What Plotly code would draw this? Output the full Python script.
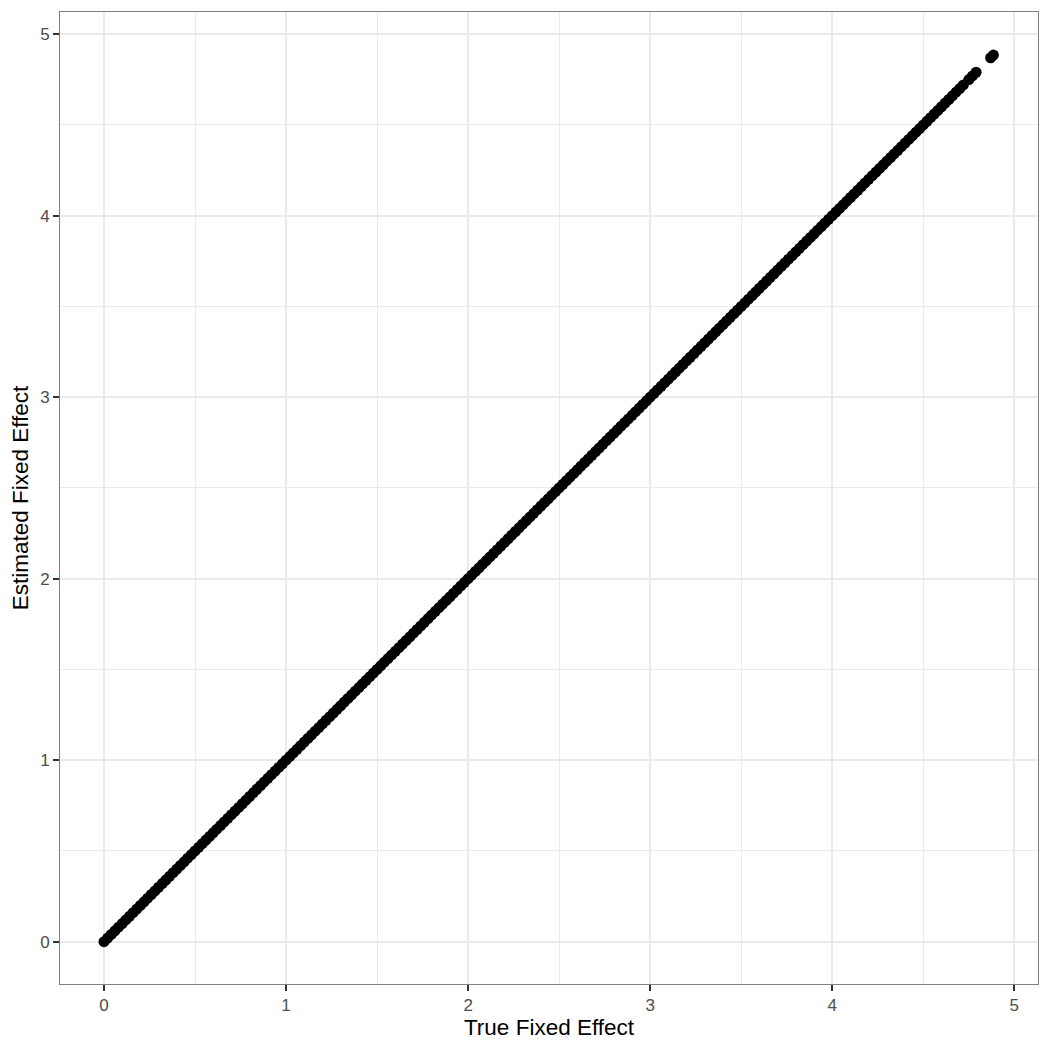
import plotly.graph_objects as go

true_effect = [
    0.00, 0.02, 0.04, 0.06, 0.08, 0.10, 0.12, 0.14, 0.16, 0.18,
    0.20, 0.22, 0.24, 0.26, 0.28, 0.30, 0.32, 0.34, 0.36, 0.38,
    0.40, 0.42, 0.44, 0.46, 0.48, 0.50, 0.52, 0.54, 0.56, 0.58,
    0.60, 0.62, 0.64, 0.66, 0.68, 0.70, 0.72, 0.74, 0.76, 0.78,
    0.80, 0.82, 0.84, 0.86, 0.88, 0.90, 0.92, 0.94, 0.96, 0.98,
    1.00, 1.02, 1.04, 1.06, 1.08, 1.10, 1.12, 1.14, 1.16, 1.18,
    1.20, 1.22, 1.24, 1.26, 1.28, 1.30, 1.32, 1.34, 1.36, 1.38,
    1.40, 1.42, 1.44, 1.46, 1.48, 1.50, 1.52, 1.54, 1.56, 1.58,
    1.60, 1.62, 1.64, 1.66, 1.68, 1.70, 1.72, 1.74, 1.76, 1.78,
    1.80, 1.82, 1.84, 1.86, 1.88, 1.90, 1.92, 1.94, 1.96, 1.98,
    2.00, 2.02, 2.04, 2.06, 2.08, 2.10, 2.12, 2.14, 2.16, 2.18,
    2.20, 2.22, 2.24, 2.26, 2.28, 2.30, 2.32, 2.34, 2.36, 2.38,
    2.40, 2.42, 2.44, 2.46, 2.48, 2.50, 2.52, 2.54, 2.56, 2.58,
    2.60, 2.62, 2.64, 2.66, 2.68, 2.70, 2.72, 2.74, 2.76, 2.78,
    2.80, 2.82, 2.84, 2.86, 2.88, 2.90, 2.92, 2.94, 2.96, 2.98,
    3.00, 3.02, 3.04, 3.06, 3.08, 3.10, 3.12, 3.14, 3.16, 3.18,
    3.20, 3.22, 3.24, 3.26, 3.28, 3.30, 3.32, 3.34, 3.36, 3.38,
    3.40, 3.42, 3.44, 3.46, 3.48, 3.50, 3.52, 3.54, 3.56, 3.58,
    3.60, 3.62, 3.64, 3.66, 3.68, 3.70, 3.72, 3.74, 3.76, 3.78,
    3.80, 3.82, 3.84, 3.86, 3.88, 3.90, 3.92, 3.94, 3.96, 3.98,
    4.00, 4.02, 4.04, 4.06, 4.08, 4.10, 4.12, 4.14, 4.16, 4.18,
    4.20, 4.22, 4.24, 4.26, 4.28, 4.30, 4.32, 4.34, 4.36, 4.38,
    4.40, 4.42, 4.44, 4.46, 4.48, 4.50, 4.52, 4.54, 4.56, 4.58,
    4.60, 4.62, 4.64, 4.66, 4.68, 4.70, 4.72,
    4.75, 4.77, 4.79, 4.87, 4.885,
]

est_effect = [
    0.00, 0.02, 0.04, 0.06, 0.08, 0.10, 0.12, 0.14, 0.16, 0.18,
    0.20, 0.22, 0.24, 0.26, 0.28, 0.30, 0.32, 0.34, 0.36, 0.38,
    0.40, 0.42, 0.44, 0.46, 0.48, 0.50, 0.52, 0.54, 0.56, 0.58,
    0.60, 0.62, 0.64, 0.66, 0.68, 0.70, 0.72, 0.74, 0.76, 0.78,
    0.80, 0.82, 0.84, 0.86, 0.88, 0.90, 0.92, 0.94, 0.96, 0.98,
    1.00, 1.02, 1.04, 1.06, 1.08, 1.10, 1.12, 1.14, 1.16, 1.18,
    1.20, 1.22, 1.24, 1.26, 1.28, 1.30, 1.32, 1.34, 1.36, 1.38,
    1.40, 1.42, 1.44, 1.46, 1.48, 1.50, 1.52, 1.54, 1.56, 1.58,
    1.60, 1.62, 1.64, 1.66, 1.68, 1.70, 1.72, 1.74, 1.76, 1.78,
    1.80, 1.82, 1.84, 1.86, 1.88, 1.90, 1.92, 1.94, 1.96, 1.98,
    2.00, 2.02, 2.04, 2.06, 2.08, 2.10, 2.12, 2.14, 2.16, 2.18,
    2.20, 2.22, 2.24, 2.26, 2.28, 2.30, 2.32, 2.34, 2.36, 2.38,
    2.40, 2.42, 2.44, 2.46, 2.48, 2.50, 2.52, 2.54, 2.56, 2.58,
    2.60, 2.62, 2.64, 2.66, 2.68, 2.70, 2.72, 2.74, 2.76, 2.78,
    2.80, 2.82, 2.84, 2.86, 2.88, 2.90, 2.92, 2.94, 2.96, 2.98,
    3.00, 3.02, 3.04, 3.06, 3.08, 3.10, 3.12, 3.14, 3.16, 3.18,
    3.20, 3.22, 3.24, 3.26, 3.28, 3.30, 3.32, 3.34, 3.36, 3.38,
    3.40, 3.42, 3.44, 3.46, 3.48, 3.50, 3.52, 3.54, 3.56, 3.58,
    3.60, 3.62, 3.64, 3.66, 3.68, 3.70, 3.72, 3.74, 3.76, 3.78,
    3.80, 3.82, 3.84, 3.86, 3.88, 3.90, 3.92, 3.94, 3.96, 3.98,
    4.00, 4.02, 4.04, 4.06, 4.08, 4.10, 4.12, 4.14, 4.16, 4.18,
    4.20, 4.22, 4.24, 4.26, 4.28, 4.30, 4.32, 4.34, 4.36, 4.38,
    4.40, 4.42, 4.44, 4.46, 4.48, 4.50, 4.52, 4.54, 4.56, 4.58,
    4.60, 4.62, 4.64, 4.66, 4.68, 4.70, 4.72,
    4.75, 4.77, 4.79, 4.87, 4.885,
]

tick_vals = [0, 1, 2, 3, 4, 5]
tick_text = ["0", "1", "2", "3", "4", "5"]

fig = go.Figure()
fig.add_trace(go.Scatter(
    x=true_effect, y=est_effect, mode="markers",
    marker=dict(color="black", size=11, line=dict(width=0)),
    showlegend=False, hoverinfo="x+y",
))

axis_common = dict(
    tickmode="array", tickvals=tick_vals, ticktext=tick_text,
    showgrid=True, gridcolor="#EBEBEB", gridwidth=2,
    minor=dict(dtick=0.5, showgrid=True, gridcolor="#EBEBEB", gridwidth=1, ticks=""),
    zeroline=False,
    showline=True, linecolor="#7F7F7F", linewidth=1, mirror=True,
    ticks="outside", ticklen=6, tickwidth=1.5, tickcolor="#333333",
    tickfont=dict(family="Liberation Sans, Arial, sans-serif", size=17, color="#4D4D4D"),
    title_font=dict(family="Liberation Sans, Arial, sans-serif", size=22.5, color="black"),
)

fig.update_xaxes(range=[-0.2415, 5.13], title_text="True Fixed Effect",
                 title_standoff=3, **axis_common)
fig.update_yaxes(range=[-0.233, 5.122], title_text="Estimated Fixed Effect",
                 title_standoff=7, **axis_common)

fig.update_layout(
    width=1050, height=1050,
    margin=dict(l=52, r=20, t=4, b=74),
    plot_bgcolor="white", paper_bgcolor="white",
)

fig.write_html("out.html")
